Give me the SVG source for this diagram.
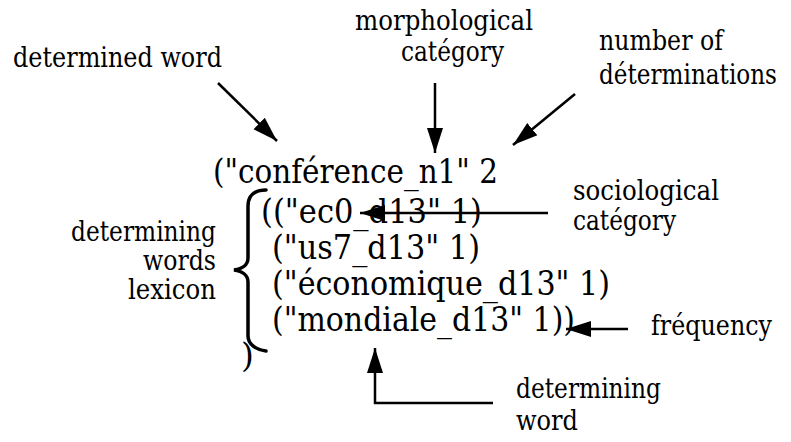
<svg xmlns="http://www.w3.org/2000/svg" width="791" height="442" viewBox="0 0 791 442">
<defs>
<style>
text{fill:#000;font-family:"DejaVu Serif","Liberation Serif",serif}
.lbl{font-size:27px}
.code{font-size:33px}
.ln{stroke:#000;stroke-width:2.5;fill:none}
</style>
<marker id="ah" markerUnits="userSpaceOnUse" markerWidth="26" markerHeight="18" viewBox="0 0 26 18" refX="25" refY="9" orient="auto">
<path d="M0,1 L25,9 L0,17 Z" fill="#000"/>
</marker>
</defs>
<rect width="791" height="442" fill="#fff"/>
<g id="label-determined-word"><text class="lbl" x="13" y="67" textLength="209" lengthAdjust="spacingAndGlyphs">determined word</text></g>
<g id="label-morphological"><text class="lbl" x="355" y="30" textLength="178" lengthAdjust="spacingAndGlyphs">morphological</text><text class="lbl" x="401" y="61" textLength="103" lengthAdjust="spacingAndGlyphs">catégory</text></g>
<g id="label-number"><text class="lbl" x="599" y="50" textLength="124" lengthAdjust="spacingAndGlyphs">number of</text><text class="lbl" x="599" y="84" textLength="178" lengthAdjust="spacingAndGlyphs">déterminations</text></g>
<g id="label-sociological"><text class="lbl" x="573" y="200" textLength="146" lengthAdjust="spacingAndGlyphs">sociological</text><text class="lbl" x="573" y="230" textLength="103" lengthAdjust="spacingAndGlyphs">catégory</text></g>
<g id="label-lexicon"><text class="lbl" x="71" y="241" textLength="145" lengthAdjust="spacingAndGlyphs">determining</text><text class="lbl" x="143" y="270" textLength="73" lengthAdjust="spacingAndGlyphs">words</text><text class="lbl" x="128" y="299" textLength="88" lengthAdjust="spacingAndGlyphs">lexicon</text></g>
<g id="label-frequency"><text class="lbl" x="651" y="335" textLength="121" lengthAdjust="spacingAndGlyphs">fréquency</text></g>
<g id="label-determining-word"><text class="lbl" x="516" y="398" textLength="145" lengthAdjust="spacingAndGlyphs">determining</text><text class="lbl" x="516" y="430" textLength="62" lengthAdjust="spacingAndGlyphs">word</text></g>
<g id="code">
<text class="code" x="213" y="183" textLength="285" lengthAdjust="spacingAndGlyphs">("conférence_n1" 2</text>
<text class="code" x="261" y="223" textLength="221" lengthAdjust="spacingAndGlyphs">(("ec0_d13" 1)</text>
<text class="code" x="272" y="259" textLength="208" lengthAdjust="spacingAndGlyphs">("us7_d13" 1)</text>
<text class="code" x="272" y="295" textLength="338" lengthAdjust="spacingAndGlyphs">("économique_d13" 1)</text>
<text class="code" x="272" y="331" textLength="303" lengthAdjust="spacingAndGlyphs">("mondiale_d13" 1))</text>
<text class="code" x="241" y="367">)</text>
</g>
<g id="brace"><path d="M266,190 C254,190 248,196 248,206 L248,258 C248,265 242,269 234,270 C242,271 248,275 248,282 L248,336 C248,344 256,350 266,351" fill="none" stroke="#000" stroke-width="3.5" stroke-linecap="round"/></g>
<g id="connectors">
<line class="ln" x1="218" y1="83" x2="277" y2="141" marker-end="url(#ah)"/>
<line class="ln" x1="435" y1="83" x2="435" y2="153" marker-end="url(#ah)"/>
<line class="ln" x1="575" y1="94" x2="513" y2="145" marker-end="url(#ah)"/>
<line class="ln" x1="548" y1="213" x2="360" y2="213" marker-end="url(#ah)"/>
<line class="ln" x1="628" y1="329" x2="566" y2="329" marker-end="url(#ah)"/>
<polyline class="ln" points="493,403 375,403 375,348" marker-end="url(#ah)"/>
</g>
</svg>
